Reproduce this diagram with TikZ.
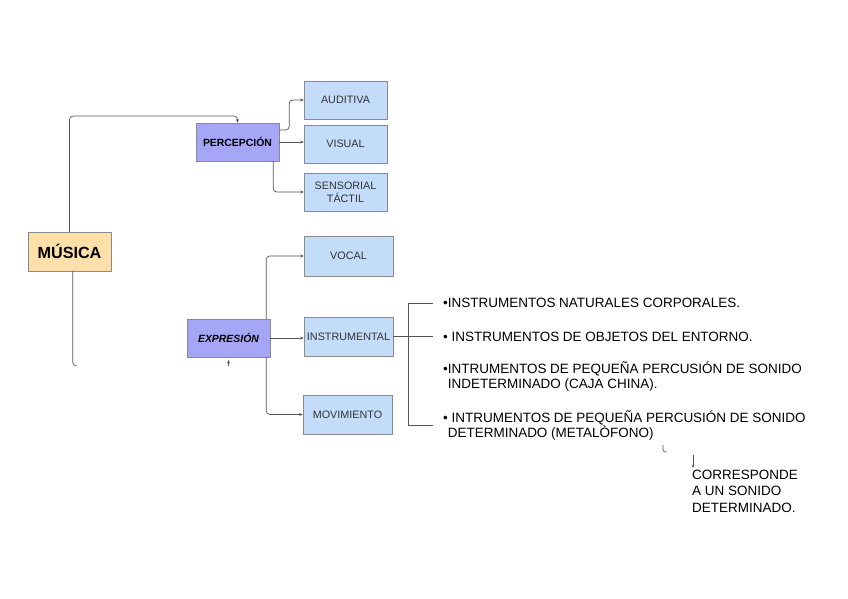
\documentclass[tikz,border=0pt]{standalone}
\usepackage{fontspec}
\setmainfont{Liberation Sans}
\usepackage{xcolor}
\usetikzlibrary{arrows.meta,positioning,calc}

\definecolor{musicafill}{HTML}{FCDFA9}
\definecolor{mainfill}{HTML}{A6A6F6}
\definecolor{subfill}{HTML}{C2DCFA}
\definecolor{boxline}{HTML}{8A8A8A}
\definecolor{linkgray}{HTML}{555555}

\begin{document}
\begin{tikzpicture}[
    x=0.03cm, y=-0.03cm,
    root/.style={rectangle, draw=boxline, fill=musicafill, minimum width=2.49cm, minimum height=1.17cm, font=\bfseries\fontsize{13.8}{16}\selectfont},
    branch/.style={rectangle, draw=boxline, fill=mainfill, minimum width=2.49cm, minimum height=1.14cm, font=\bfseries\fontsize{8.9}{10}\selectfont},
    leaf/.style={rectangle, draw=boxline, fill=subfill, minimum width=2.49cm, minimum height=1.14cm, font=\fontsize{9.2}{11}\selectfont, text=black!80, align=center, inner sep=1pt},
    item/.style={anchor=west, inner sep=0pt, align=left, font=\fontsize{11.5}{12.8}\selectfont},
    link/.style={draw=linkgray, line width=0.6pt, rounded corners=3pt},
    arrow/.style={link, -{Stealth[length=3pt,width=2.5pt]}}
]
    \useasboundingbox (0,0) rectangle (848,599);

    % main boxes
    \node[root] (musica) at (69.5,251.5) {MÚSICA};
    \node[branch] (percep) at (237.5,142) {PERCEPCIÓN};
    \node[branch] (expr) at (228.5,338) {\itshape EXPRESIÓN};

    % perception leaves
    \node[leaf] (auditiva) at (345.5,100) {AUDITIVA};
    \node[leaf] (visual) at (345.5,144) {VISUAL};
    \node[leaf] (sensorial) at (345.5,192) {SENSORIAL\\TÁCTIL};

    % expression leaves
    \node[leaf, minimum width=2.67cm, minimum height=1.2cm] (vocal) at (348.5,256) {VOCAL};
    \node[leaf, minimum width=2.67cm, minimum height=1.17cm] (instr) at (348.5,336.5) {INSTRUMENTAL};
    \node[leaf, minimum width=2.67cm, minimum height=1.17cm] (movim) at (347.5,414.5) {MOVIMIENTO};

    % instrument list
    \node[item] (it1) at (443,303) {•INSTRUMENTOS NATURALES CORPORALES.};
    \node[item] (it2) at (443,336.5) {• INSTRUMENTOS DE OBJETOS DEL ENTORNO.};
    \node[item] (it3) at (443,376.5) {•INTRUMENTOS DE PEQUEÑA PERCUSIÓN DE SONIDO\\\hspace{4pt}INDETERMINADO (CAJA CHINA).};
    \node[item] (it4) at (443,425) {• INTRUMENTOS DE PEQUEÑA PERCUSIÓN DE SONIDO\\\hspace{4pt}DETERMINADO (METALÒFONO)};
    \node[item, font=\fontsize{11.5}{14}\selectfont] (note) at (692,491) {CORRESPONDE\\A UN SONIDO\\DETERMINADO.};

    % connectors
    \draw[arrow] (musica.north) |- ([yshift=0.2cm]percep.north) -- (percep.north);
    \draw[link] ([xshift=0.1cm]musica.south) |- (77,366);
    \draw[arrow] ([yshift=0.36cm]percep.east) -- ++(0.3cm,0) |- (auditiva.west);
    \draw[arrow] (percep.east) -- (percep.east -| visual.west);
    \draw[arrow] ([xshift=-0.18cm]percep.south east) |- (sensorial.west);
    \draw[arrow] ([xshift=-0.12cm]expr.north east) |- (vocal.west);
    \draw[arrow] (expr.east) -- (expr.east -| instr.west);
    \draw[arrow] ([xshift=-0.12cm]expr.south east) |- (movim.west);
    \draw[arrow] ([yshift=-0.25cm]expr.south) -- ([yshift=-0.08cm]expr.south);

    % bracket
    \draw[link] (instr.east) -- ([xshift=-0.3cm]it2.west);
    \draw[link, rounded corners=0pt] ([xshift=-0.3cm]it1.west) -- ([xshift=-1.05cm]it1.west) -- ([xshift=-1.05cm]it4.west) -- ([xshift=-0.3cm]it4.west);

    % note
    \draw[link, rounded corners=2pt] (663,445) |- (667,452);
    \draw[arrow] ([yshift=0.45cm]note.north west -| 693,0) -- ([yshift=0.05cm]note.north west -| 693,0);
\end{tikzpicture}
\end{document}
